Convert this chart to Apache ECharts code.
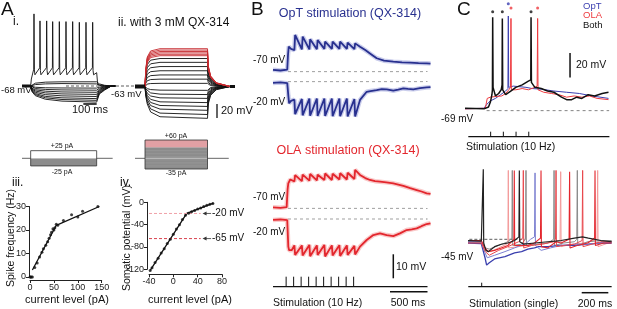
<!DOCTYPE html>
<html><head><meta charset="utf-8">
<script src="https://cdn.jsdelivr.net/npm/echarts/dist/echarts.min.js"></script>
<style>html,body{margin:0;padding:0;background:#fff}#c{width:617px;height:309px}</style>
</head><body><div id="c"></div>
<script>
// ---------- DATA ----------
// Panel A-i (time ms, membrane potential mV)
const aiSpike = [[0,-68],[65,-68],[70,-58],[88,-44],[90,35],[93,-45],[97,-52],[133,-42],[135,25],[138,-46],[142,-52],[183,-42],[185,25],[188,-46],[192,-52],[228,-42],[230,24],[233,-46],[237,-52],[278,-42],[280,24],[283,-46],[287,-52],[328,-42],[330,24],[333,-46],[337,-52],[378,-42],[380,24],[383,-46],[387,-52],[428,-42],[430,23],[433,-46],[437,-52],[478,-42],[480,23],[483,-46],[487,-52],[528,-42],[530,23],[533,-46],[537,-52],[560,-49],[568,-66],[600,-68],[700,-68]];
const aiTimes = [0,65,75,100,175,300,560,580,620,670,700];
const aiSub = [
 [-68,-68,-66,-64,-62.5,-62,-62,-65,-67,-68,-68],
 [-68,-68,-67,-66,-65,-64.5,-65,-66.5,-67.5,-68,-68]
];
const aiHyper = [
 [-68,-68,-69.1,-69.8,-70.5,-70.8,-71,-69.5,-68.8,-68,-68],
 [-68,-68,-70.1,-71.6,-72.9,-73.6,-74,-71,-69.5,-68,-68],
 [-68,-68,-71.2,-73.4,-75.4,-76.5,-77,-72.5,-70.3,-68,-68],
 [-68,-68,-72.2,-75.2,-77.8,-79.3,-80,-74,-71,-68,-68],
 [-68,-68,-73.3,-77,-80.3,-82.1,-83,-75.5,-71.8,-68,-68],
 [-68,-68,-74.3,-78.8,-82.8,-84.9,-86,-77,-72.5,-68,-68],
 [-68,-68,-75.2,-80.3,-84.8,-87.3,-88.5,-78.3,-73.1,-68,-68],
 [-68,-68,-76.1,-81.8,-86.9,-89.6,-91,-79.5,-73.8,-68,-68]
];
// Panel A-ii
const aiiTimes = [0,80,86,98,125,200,580,586,605,650,760,800];
const aiiRed = [
 [-63,-63,-38.7,-20.9,-12.2,-9,-9,-33.3,-47.9,-57.6,-63,-63],
 [-63,-63,-39.6,-22.4,-14.1,-11,-11,-34.4,-48.4,-57.8,-63,-63],
 [-63,-63,-40.5,-24,-16,-13,-13,-35.5,-49,-58,-63,-63],
 [-63,-63,-41.4,-25.6,-17.9,-15,-15,-36.6,-49.6,-58.2,-63,-63],
 [-63,-63,-42.3,-27.1,-19.8,-17,-17,-37.7,-50.1,-58.4,-63,-63],
 [-63,-63,-43.2,-28.7,-21.6,-19,-19,-38.8,-50.7,-58.6,-63,-63]
];
const aiiBlack = [
 [-63,-63,-45,-31.8,-25.4,-23,-23,-41,-51.8,-59,-63,-63],
 [-63,-63,-47.5,-36.1,-30.6,-28.5,-28.5,-44,-53.3,-59.5,-63,-63],
 [-63,-63,-50.2,-40.8,-36.2,-34.5,-34.5,-47.3,-55,-60.1,-63,-63],
 [-63,-63,-52.9,-45.4,-41.8,-40.5,-40.5,-50.6,-56.7,-60.7,-63,-63],
 [-63,-63,-55.6,-50.1,-47.5,-46.5,-46.5,-53.9,-58.4,-61.3,-63,-63],
 [-63,-63,-58.3,-54.8,-53.1,-52.5,-52.5,-57.2,-60.1,-61.9,-63,-63],
 [-63,-63,-61,-59.5,-58.8,-58.5,-58.5,-60.5,-61.7,-62.5,-63,-63],
 [-63,-63,-64.7,-66,-67.4,-68.2,-68.5,-66,-64.5,-63.6,-63,-63],
 [-63,-63,-66.5,-69.3,-72.2,-73.9,-74.5,-69.3,-66.2,-64.2,-63,-63],
 [-63,-63,-68.1,-72.4,-76.6,-79.2,-80,-72.4,-67.8,-64.7,-63,-63],
 [-63,-63,-69.9,-75.7,-81.4,-84.9,-86,-75.7,-69.4,-65.3,-63,-63],
 [-63,-63,-71.6,-78.7,-85.8,-90.1,-91.5,-78.7,-71,-65.9,-63,-63],
 [-63,-63,-73.2,-81.7,-90.2,-95.3,-97,-81.7,-72.5,-66.4,-63,-63],
 [-63,-63,-75,-85,-95,-101,-103,-85,-74.2,-67,-63,-63],
 [-63,-63,-76.7,-88,-99.4,-106.2,-108.5,-88,-75.7,-67.6,-63,-63]
];
// Current-step protocols (pA)
const stepI = {low:-25, high:25};
const stepII = {low:-35, high:60, redFrom:36};
// Panel A-iii: spike frequency vs current
const iiiCurrent = [0,2,5,10,15,20,25,28,33,37,40,43,45,48,50,52,55,58,70,87,100,110,142];
const iiiFreq    = [0,0,0,4,6,8.5,10.5,12,13.5,15,16.5,18,19,20.5,20,21,22.5,22,24,26.5,25.5,28,30];
const iiiFitI = [5,55,145];
const iiiFitF = [3,22,30];
// Panel A-iv: somatic potential vs current
const ivCurrent = [-38,-35,-30,-25,-20,-15,-10,-5,0,5,10,15,20,25,30,35,40,45,50,55,60,65];
const ivPot     = [-122,-117,-108,-100,-91,-83,-74,-66,-57,-48,-40,-31,-23,-19.5,-17,-14.5,-12,-10,-7.5,-5.5,-3.5,-2];
const ivFitI = [-38,22,66];
const ivFitV = [-122,-20,-1.5];
const ivRefLevels = [-20,-65];
// Panel B (time ms, mV relative to holding)
const bOpT70 = [[0,0.8],[100,0.5],[190,0.9],[200,7],[210,10.5],[240,9.5],[285,9],[295,15.3],[385,9.3],[396,14.6],[485,9.3],[495,13.5],[585,9.4],[595,13.2],[685,9.5],[695,12.5],[785,9.5],[795,12.5],[885,9.5],[895,12.5],[985,9.5],[995,12.1],[1085,9.4],[1095,11.8],[1160,10.4],[1230,9],[1293,7.6],[1382,5.6],[1480,4.6],[1604,4.2],[1720,3.9],[1827,3.75],[1940,3.6],[2049,3.5],[2100,3.4]];
const bOpT20 = [[0,-0.5],[100,-0.3],[190,-0.6],[205,-6],[215,-9],[240,-8],[285,-7.5],[295,-13.5],[385,-7.2],[395,-14],[485,-7],[495,-14.2],[585,-7],[595,-14.3],[685,-7],[695,-14.3],[785,-7],[795,-14.4],[885,-7],[895,-14.4],[985,-7],[995,-14.5],[1085,-7.2],[1095,-14.5],[1160,-7.6],[1249,-4.2],[1300,-3.9],[1382,-3.5],[1450,-3.1],[1516,-3.2],[1604,-3.75],[1670,-3.3],[1738,-2.8],[1800,-3],[1871,-3.2],[1960,-2.7],[2049,-2.4],[2100,-2.3]];
const bOLA70 = [[0,0.4],[100,0.2],[182,0.5],[195,8],[204,10.4],[230,12],[285,11.2],[295,13.8],[385,11.3],[395,14],[485,11.5],[495,14.3],[585,11.6],[595,14],[685,11.8],[695,14.5],[785,11.8],[795,14.4],[885,12],[895,14.6],[985,12],[995,14.8],[1085,12.2],[1095,16],[1160,13.9],[1230,12.6],[1293,11.8],[1360,11.3],[1427,11.1],[1510,10.8],[1604,10.4],[1670,9.9],[1738,9.3],[1830,8.4],[1916,7.6],[1980,7],[2049,6.25],[2100,6]];
const bOLA20 = [[0,-0.4],[100,-0.2],[190,-0.5],[204,-11.5],[215,-13],[249,-13],[285,-11],[295,-15],[385,-11],[395,-15.2],[485,-10.8],[495,-15.5],[585,-11],[595,-15],[685,-10.8],[695,-15.6],[785,-11],[795,-15.2],[885,-10.9],[895,-15.4],[985,-11],[995,-15],[1085,-11.2],[1095,-14.8],[1160,-11.5],[1249,-8.75],[1338,-6.7],[1427,-6],[1516,-6.7],[1604,-7.1],[1693,-6],[1782,-4.6],[1850,-4.3],[1916,-3.9],[1980,-3],[2049,-2.1],[2100,-1.8]];
const bStimTimes = [175,275,375,475,575,675,775,875,975,1075];
// Panel C top (time ms, mV)
const cTopBoth = [[0,-67],[150,-67.5],[185,-66],[200,-62],[212,-56],[216,-52],[218,7],[221,-50],[240,-57],[265,-55],[285,-52],[292,-48],[294,6],[297,-52],[320,-56],[360,-53],[400,-50],[450,-48],[499,-45],[518,-44],[520,7],[523,-46],[550,-50],[600,-51],[650,-53],[700,-54],[760,-58],[800,-60],[840,-60],[880,-58],[920,-59],[970,-56],[1020,-57],[1080,-55],[1130,-54]];
const cTopOpT = [[0,-67.5],[150,-67],[170,-64],[200,-61],[240,-59],[280,-56],[320,-53],[338,-51],[341,8],[344,-50],[380,-49],[430,-49.5],[480,-50],[530,-51],[600,-51.5],[700,-53],[800,-54],[900,-55],[1000,-57],[1130,-59]];
const cTopOLA = [[0,-67.5],[160,-67],[175,-59],[200,-58],[240,-57.5],[290,-57],[320,-55],[345,-52],[358,-50],[362,6],[365,-52],[400,-52],[450,-51],[500,-52],[550,-50],[568,-49],[572,6],[575,-52],[620,-54],[680,-55],[740,-56],[800,-58],[860,-57],[920,-58],[980,-57],[1040,-59],[1130,-60]];
const cDotsBoth = [[218,11.5],[294,11.5],[520,11.5]];
const cDotsOpT = [[341,18]];
const cDotsOLA = [[362,14.5],[572,14.5]];
const cStimTimes = [202,302,402,502];
// Panel C bottom
const cBotBoth1 = [[0,-46],[100,-46.5],[112,-45],[115,12],[118,-48],[135,-54],[153,-55],[200,-51],[250,-49],[300,-48],[350,-46],[383,-43],[386,11],[389,-47],[420,-49],[500,-48],[600,-47],[700,-46],[800,-44],[860,-43],[905,-44],[1000,-46],[1080,-47]];
const cBotBoth2 = [[0,-47],[100,-47.5],[130,-52],[160,-53],[230,-50],[300,-47],[330,-44],[333,11],[336,-50],[400,-49],[432,-45],[436,11],[439,-50],[520,-49],[600,-48],[644,-45],[647,11],[650,-50],[720,-48],[800,-47],[818,-45],[822,11],[825,-50],[900,-47],[1000,-46],[1080,-46]];
const cBotOpT1 = [[0,-48],[100,-48.5],[115,-50],[128,-60],[140,-66],[160,-64],[200,-61],[278,-59],[350,-56],[403,-55],[450,-53],[500,-52],[530,-51],[600,-51],[700,-50],[800,-50],[905,-49],[1000,-48],[1080,-48]];
const cBotOpT2 = [[0,-47],[100,-47],[128,-56],[145,-60],[200,-58],[278,-55],[350,-52],[440,-48],[470,-45],[500,-43],[504,9],[507,-50],[550,-54],[620,-52],[700,-50],[800,-49],[900,-49],[1000,-48],[1080,-47]];
const cBotOLA1 = [[0,-46],[100,-46],[128,-52],[150,-55],[200,-54],[250,-52],[300,-50],[345,-45],[348,11],[351,-50],[450,-50],[500,-48],[545,-44],[549,11],[552,-51],[600,-52],[662,-47],[700,-48],[760,-45],[764,10],[767,-52],[820,-50],[900,-48],[952,-44],[955,11],[958,-50],[1020,-48],[1080,-48]];
const cBotOLA2 = [[0,-48],[100,-48],[130,-55],[160,-58],[230,-54],[300,-51],[380,-47],[412,-44],[416,11],[419,-52],[480,-50],[560,-49],[640,-47],[658,-45],[662,11],[665,-51],[720,-50],[800,-49],[858,-46],[862,11],[865,-51],[930,-49],[1000,-47],[1080,-47]];
const cBotOLA3 = [[0,-47],[100,-47],[130,-54],[170,-55],[230,-52],[290,-49],[300,-46],[303,11],[306,-52],[380,-51],[440,-50],[520,-49],[600,-48],[692,-46],[697,10],[700,-51],[780,-49],[880,-48],[970,-45],[975,11],[978,-51],[1080,-47]];
const cBotStimTimes = [103];

// ---------- BUILD ----------
const FONT = '"Liberation Sans", Arial, Helvetica, sans-serif';
const BLUE = '#28308f', BLUE_L = '#a9addf', RED = '#e3262d', RED_L = '#f5a5a5';
const grids = [], xAxes = [], yAxes = [], series = [], graphics = [];
function addPanel(left, top, width, height, xmin, xmax, ymin, ymax) {
  const i = grids.length;
  grids.push({left: left, top: top, width: width, height: height, containLabel: false});
  xAxes.push({type: 'value', gridIndex: i, min: xmin, max: xmax, show: false});
  yAxes.push({type: 'value', gridIndex: i, min: ymin, max: ymax, show: false});
  return i;
}
function zip(ts, vs) { return ts.map((t, k) => [t, vs[k]]); }
function line(g, data, color, w, z, extra) {
  series.push(Object.assign({type: 'line', xAxisIndex: g, yAxisIndex: g, data: data, showSymbol: false, symbol: 'none',
    clip: false, silent: true, z: z || 2, lineStyle: {color: color, width: w}}, extra || {}));
}
function segs(g, data, color, w, dash, z) {
  series.push({type: 'custom', coordinateSystem: 'cartesian2d', xAxisIndex: g, yAxisIndex: g, clip: false, silent: true, z: z || 3,
    encode: {x: [0, 2], y: [1, 3]}, data: data,
    renderItem: function (p, api) {
      const a = api.coord([api.value(0), api.value(1)]), b = api.coord([api.value(2), api.value(3)]);
      return {type: 'line', shape: {x1: a[0], y1: a[1], x2: b[0], y2: b[1]}, style: {stroke: color, lineWidth: w, lineDash: dash || null, fill: null}};
    }});
}
function rects(g, data, fill, stroke, w, z) {
  series.push({type: 'custom', coordinateSystem: 'cartesian2d', xAxisIndex: g, yAxisIndex: g, clip: false, silent: true, z: z || 2,
    encode: {x: [0, 1], y: [2, 3]}, data: data,
    renderItem: function (p, api) {
      const a = api.coord([api.value(0), api.value(3)]), b = api.coord([api.value(1), api.value(2)]);
      return {type: 'rect', shape: {x: a[0], y: a[1], width: b[0] - a[0], height: b[1] - a[1]},
        style: {fill: fill || 'none', stroke: stroke || null, lineWidth: w || 0}};
    }});
}
function arrows(g, data, color) {
  series.push({type: 'custom', coordinateSystem: 'cartesian2d', xAxisIndex: g, yAxisIndex: g, clip: false, silent: true, z: 4,
    encode: {x: [0, 2], y: [1, 3]}, data: data,
    renderItem: function (p, api) {
      const a = api.coord([api.value(0), api.value(1)]), b = api.coord([api.value(2), api.value(3)]);
      return {type: 'group', children: [
        {type: 'line', shape: {x1: a[0], y1: a[1], x2: b[0] + 2, y2: b[1]}, style: {stroke: color, lineWidth: 0.8}},
        {type: 'polygon', shape: {points: [[b[0], b[1]], [b[0] + 4, b[1] - 2], [b[0] + 4, b[1] + 2]]}, style: {fill: color}}]};
    }});
}
function dots(g, data, color, size) {
  series.push({type: 'scatter', xAxisIndex: g, yAxisIndex: g, data: data, symbol: 'circle', symbolSize: size, silent: true, z: 5,
    clip: false, itemStyle: {color: color}});
}
function txt(s, x, y, size, color, align, extra) {
  graphics.push(Object.assign({type: 'text', x: x, y: y, silent: true, z: 10,
    style: {text: s, fill: color || '#111', font: size + 'px ' + FONT, textAlign: align || 'left', align: align || 'left',
      textVerticalAlign: 'middle', verticalAlign: 'middle'}}, extra || {}));
}

// Grids
const gAi  = addPanel(22, 13.9, 93.33, 94.5, 0, 700, -100, 35);
const gAii = addPanel(135, 10.9, 100, 109.9, 0, 800, -112, 45);
const gSi  = addPanel(22, 149.15, 93.33, 18.3, 0, 700, -30, 30);
const gSii = addPanel(135, 138.5, 100, 32.025, 0, 800, -40, 65);
const giii = addPanel(30, 206.5, 71.7, 70.5, 0, 150, 0, 30);
const giv  = addPanel(149, 202.3, 73, 67, -40, 80, -120, 0);
const gB1  = addPanel(273, 30.9, 157.5, 48, 0, 2100, -3, 17);
const gB2  = addPanel(273, 76.9, 157.5, 43.2, 0, 2100, -16, 2);
const gB3  = addPanel(273, 165.1, 157.5, 48, 0, 2100, -2, 18);
const gB4  = addPanel(273, 214.2, 157.5, 48, 0, 2100, -18, 2);
const gBs  = addPanel(273, 276.7, 157.5, 20, 0, 2100, -1, 1);
const gCt  = addPanel(465, 1.23, 146.05, 116.85, 0, 1150, -75, 20);
const gCts = addPanel(465, 131.7, 146.05, 5, 0, 1150, 0, 1);
const gCb  = addPanel(468, 159.35, 143.64, 110.7, 0, 1080, -70, 20);
const gCbs = addPanel(468, 282.7, 143.64, 10, 0, 1080, -1.5, 1);

// visible axes for iii and iv
function visAxis(ax, min, max, interval, offset) {
  return Object.assign(ax, {show: true, min: min, max: max, interval: interval, offset: offset,
    axisLine: {show: true, onZero: false, lineStyle: {color: '#222', width: 1}},
    axisTick: {show: true, length: 3, lineStyle: {color: '#222', width: 1}},
    axisLabel: {show: true, fontSize: 9, color: '#222', margin: 3, fontFamily: FONT},
    splitLine: {show: false}});
}
visAxis(xAxes[giii], 0, 150, 50, 3);
visAxis(yAxes[giii], 0, 30, 10, 1);
visAxis(xAxes[giv], -40, 80, 40, 5);
visAxis(yAxes[giv], -120, 0, 40, 2);
xAxes[giii].position = 'bottom'; yAxes[giii].position = 'left';
xAxes[giv].position = 'bottom'; yAxes[giv].position = 'left';

// ---- Panel A-i ----
segs(gAi, [[330, -68, 850, -68]], '#333', 0.8, [3, 2], 1);
aiHyper.forEach(r => line(gAi, zip(aiTimes, r), '#111', 0.9));
aiSub.forEach(r => line(gAi, zip(aiTimes, r), '#111', 0.9));
line(gAi, aiSpike, '#111', 0.9);
line(gAi, [[0, -68], [65, -68]], '#111', 3);
segs(gAi, [[460, -93.7, 560, -93.7]], '#111', 1.6);
// ---- Panel A-ii ----
aiiBlack.forEach(r => line(gAii, zip(aiiTimes, r), '#111', 0.9));
aiiRed.forEach(r => line(gAii, zip(aiiTimes, r), '#c62a2f', 0.9));
line(gAii, [[0, -63], [80, -63]], '#111', 4);
line(gAii, [[760, -63], [800, -63]], '#111', 3);
segs(gAii, [[656, -88, 656, -108]], '#111', 1.3);
// ---- protocols ----
segs(gSi, [[0, 0, 65, 0], [560, 0, 680, 0]], '#666', 1);
rects(gSi, [[65, 560, stepI.low, 0]], '#8c8c8c', null, 0);
rects(gSi, [[65, 560, 0, stepI.high]], '#ffffff', null, 0);
rects(gSi, [[65, 560, stepI.low, stepI.high]], 'none', '#333', 0.8, 3);
segs(gSii, [[0, 0, 80, 0], [580, 0, 750, 0]], '#666', 1);
rects(gSii, [[80, 580, stepII.low, stepII.redFrom]], '#8c8c8c', null, 0);
rects(gSii, [[80, 580, stepII.redFrom, stepII.high]], '#e2a0a4', null, 0);
segs(gSii, [[80, -25, 580, -25], [80, -15, 580, -15], [80, -5, 580, -5], [80, 5, 580, 5], [80, 15, 580, 15], [80, 25, 580, 25]], '#9e9e9e', 0.6);
segs(gSii, [[80, 0, 580, 0]], '#d0d0d0', 0.8);
rects(gSii, [[80, 580, stepII.low, stepII.high]], 'none', '#333', 0.8, 3);
// ---- Panel iii ----
line(giii, zip(iiiFitI, iiiFitF), '#111', 1.3);
line(giii, [[0, 0], [5, 0]], '#111', 2.5);
dots(giii, zip(iiiCurrent, iiiFreq), '#111', 3);
// ---- Panel iv ----
segs(giv, [[-40, ivRefLevels[0], 45, ivRefLevels[0]]], '#f0a0a8', 1, [3, 2]);
segs(giv, [[-40, ivRefLevels[1], 45, ivRefLevels[1]]], '#d8404c', 1, [3, 2]);
arrows(giv, [[62, ivRefLevels[0], 48, ivRefLevels[0]], [62, ivRefLevels[1], 48, ivRefLevels[1]]], '#333');
line(giv, zip(ivFitI, ivFitV), '#111', 1.3);
dots(giv, zip(ivCurrent, ivPot), '#111', 3);
// ---- Panel B ----
[gB1, gB2, gB3, gB4].forEach(g => segs(g, [[200, 0, 2060, 0]], '#888', 0.8, [3, 3], 1));
const band = (c) => ({lineStyle: {color: c, width: 4.5, opacity: 0.6}});
line(gB1, bOpT70, BLUE_L, 4.5, 1, band(BLUE_L));
line(gB1, bOpT70, BLUE, 1.8);
line(gB2, bOpT20, BLUE_L, 4.5, 1, band(BLUE_L));
line(gB2, bOpT20, BLUE, 1.8);
line(gB3, bOLA70, RED_L, 4.5, 1, band(RED_L));
line(gB3, bOLA70, RED, 1.8);
line(gB4, bOLA20, RED_L, 4.5, 1, band(RED_L));
line(gB4, bOLA20, RED, 1.8);
segs(gB4, [[1604, -14.7, 1604, -24.7]], '#111', 1.5);
segs(gBs, [[0, 0, 2060, 0]], '#111', 1.2);
segs(gBs, bStimTimes.map(t => [t, 0, t, 1]), '#111', 1);
segs(gBs, [[1560, -0.5, 2060, -0.5]], '#111', 1.5);
// ---- Panel C top ----
segs(gCt, [[170, -69, 1135, -69]], '#666', 0.8, [3, 3], 1);
line(gCt, cTopOpT, '#3b3fb0', 1);
line(gCt, cTopOLA, '#ee3a3f', 1);
line(gCt, cTopBoth, '#111', 1.5);
dots(gCt, cDotsBoth, '#111', 3);
dots(gCt, cDotsOpT, '#3b3fb0', 3);
dots(gCt, cDotsOLA, '#ee3a3f', 3);
segs(gCt, [[827, -42, 827, -22]], '#111', 1.5);
segs(gCts, [[26, 0, 1137, 0]], '#111', 1.2);
segs(gCts, cStimTimes.map(t => [t, 0, t, 1]), '#111', 1);
// ---- Panel C bottom ----
segs(gCb, [[10, -45, 430, -45]], '#333', 0.8, [3, 2], 1);
line(gCb, cBotOLA3, '#f39a9a', 1);
line(gCb, cBotBoth2, '#8a8a8a', 1);
line(gCb, cBotOpT1, '#3a3fae', 1.3);
line(gCb, cBotOpT2, '#7b7fd0', 1);
line(gCb, cBotOLA2, '#e8474c', 1);
line(gCb, cBotOLA1, '#e3262d', 1.1);
line(gCb, cBotBoth1, '#222', 1.2);
segs(gCbs, [[2, 0, 1080, 0]], '#111', 1.2);
segs(gCbs, cBotStimTimes.map(t => [t, 0, t, 1]), '#111', 1);
segs(gCbs, [[855, -1.5, 1055, -1.5]], '#111', 1.5);

// ---------- TEXT ----------
txt('A', 1, 10, 19);
txt('i.', 13, 22, 12);
txt('ii. with 3 mM QX-314', 118, 23, 12);
txt('-68 mV', 1, 90, 9.5);
txt('-63 mV', 111, 94, 9.5);
txt('100 ms', 90, 110, 11, '#111', 'center');
txt('20 mV', 221, 111, 11);
txt('+25 pA', 62, 146.5, 7, '#111', 'center');
txt('-25 pA', 62, 172.5, 7, '#111', 'center');
txt('+60 pA', 176, 136, 7, '#111', 'center');
txt('-35 pA', 176, 173, 7, '#111', 'center');
txt('iii.', 12, 183, 12);
txt('iv.', 120, 183, 12);
txt('Spike frequency (Hz)', 11, 238, 10.5, '#111', 'center', {rotation: Math.PI / 2});
txt('current level (pA)', 67, 300, 11, '#111', 'center');
txt('Somatic potential (mV)', 127, 238, 10.5, '#111', 'center', {rotation: Math.PI / 2});
txt('current level (pA)', 190, 300, 11, '#111', 'center');
txt('-20 mV', 212, 213.5, 10);
txt('-65 mV', 212, 238.5, 10);
txt('B', 251, 10, 19);
txt('OpT stimulation (QX-314)', 350, 13.5, 12.5, BLUE, 'center');
txt('OLA stimulation (QX-314)', 348, 151, 12.5, RED, 'center');
txt('-70 mV', 253, 60, 10);
txt('-20 mV', 253, 102, 10);
txt('-70 mV', 253, 197, 10);
txt('-20 mV', 253, 232, 10);
txt('10 mV', 396, 267, 10.5);
txt('Stimulation (10 Hz)', 273, 303, 10.5);
txt('500 ms', 408, 303, 10.5, '#111', 'center');
txt('C', 457, 10, 19);
txt('OpT', 583, 6, 9.5, '#3b3fb0');
txt('OLA', 583, 15.5, 9.5, '#ee3a3f');
txt('Both', 583, 25, 9.5, '#111');
txt('20 mV', 576, 65, 10.5);
txt('-69 mV', 441, 119, 10);
txt('Stimulation (10 Hz)', 466, 147, 10.5);
txt('-45 mV', 441, 257, 10);
txt('Stimulation (single)', 469, 304, 10.5);
txt('200 ms', 595, 304, 10.5, '#111', 'center');

const chart = echarts.init(document.getElementById('c'), null, {renderer: 'canvas'});
chart.setOption({animation: false, grid: grids, xAxis: xAxes, yAxis: yAxes, series: series, graphic: {elements: graphics}});
</script></body></html>
